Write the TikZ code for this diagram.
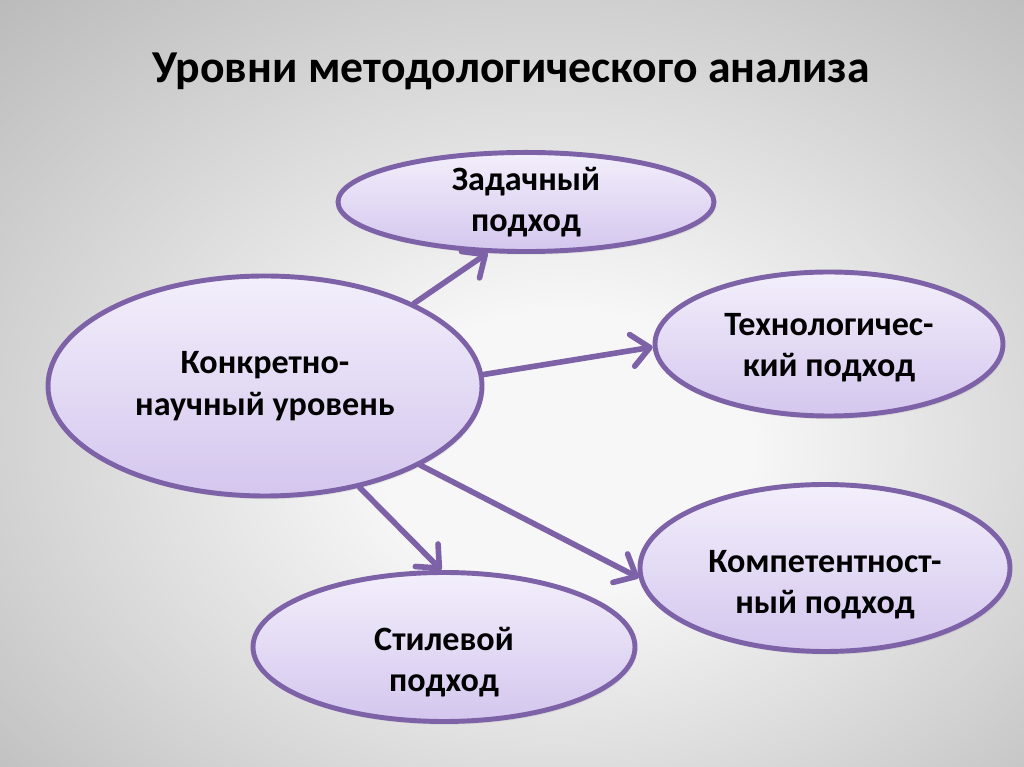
\documentclass[tikz,border=0pt]{standalone}
\usepackage{fontspec}
\setmainfont{Carlito}
\usepackage{tikz}
\usepackage{xcolor}
\usetikzlibrary{arrows.meta, shapes.geometric, shadows}
\definecolor{bubbleedge}{RGB}{125,98,168}
\definecolor{bubbletop}{RGB}{243,239,251}
\definecolor{bubblebot}{RGB}{212,198,238}
\definecolor{bgin}{RGB}{247,247,247}
\definecolor{bgmid}{RGB}{162,162,162}
\definecolor{bgout}{RGB}{115,115,115}
\pgfdeclareradialshading{slidebg}{\pgfpoint{3bp}{-5bp}}{%
  color(0bp)=(bgin); color(9bp)=(bgin); color(50bp)=(bgmid); color(71bp)=(bgout)}

\begin{document}
\begin{tikzpicture}[
  bubble/.style={ellipse, draw=bubbleedge, line width=2.8pt, top color=bubbletop,
              bottom color=bubblebot, inner sep=0pt, align=center,
              font=\fontsize{19.4}{23.5}\selectfont\bfseries,
              drop shadow={opacity=0.15, shadow xshift=1pt, shadow yshift=-1.8pt}},
  lowtext/.style={font=\fontsize{19.4}{23.5}\selectfont\bfseries, align=center, yshift=#1},
  arrow/.style={-{Straight Barb[round, length=3.6mm, width=6.4mm]}, line width=3.2pt,
              bubbleedge, line cap=round}
]
\shade[shading=slidebg] (0,0) rectangle (20.48,-15.34);
\useasboundingbox (0,0) rectangle (20.48,-15.34);

\node[anchor=base, font=\fontsize{26}{30}\selectfont\bfseries] (title) at (10.22,-1.66)
  {Уровни методологического анализа};

\node[bubble, minimum width=8.68cm, minimum height=4.40cm] (level) at (5.30,-7.72)
  {Конкретно-\\научный уровень};
\node[bubble, minimum width=7.52cm, minimum height=1.80cm] (task) at (10.52,-4.04)
  {Задачный\\подход};
\node[bubble, minimum width=6.96cm, minimum height=2.88cm,
      label={[lowtext=-0.08cm]center:{Технологичес-\\кий подход}}] (tech) at (16.58,-6.88) {};
\node[bubble, minimum width=7.40cm, minimum height=3.34cm,
      label={[lowtext=-0.34cm]center:{Компетентност-\\ный подход}}] (comp) at (16.50,-11.36) {};
\node[bubble, minimum width=7.64cm, minimum height=2.98cm,
      label={[lowtext=-0.30cm]center:{Стилевой\\подход}}] (style) at (8.88,-12.94) {};

\draw[arrow] (level.29) -- (task.233);
\draw[arrow] (level.3) -- (tech.181);
\draw[arrow] (level.333) -- (comp.183);
\draw[arrow] (level.313) -- (style.92);
\end{tikzpicture}
\end{document}
